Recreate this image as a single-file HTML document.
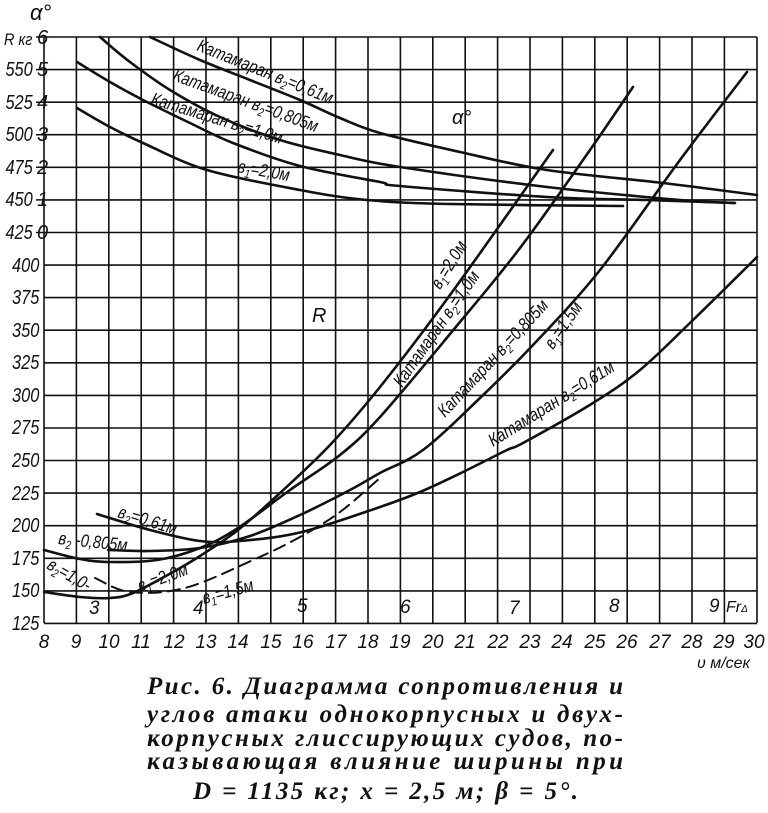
<!DOCTYPE html>
<html><head><meta charset="utf-8">
<style>
html,body{margin:0;padding:0;background:#fff;}
svg{display:block;}
.t{font-family:"Liberation Sans",sans-serif;font-style:italic;fill:#111;}
.c{font-family:"Liberation Serif","DejaVu Serif",serif;font-style:italic;fill:#111;}
</style></head>
<body>
<svg width="768" height="813" viewBox="0 0 768 813" xmlns="http://www.w3.org/2000/svg">
<rect width="768" height="813" fill="#fff"/>
<g stroke="#111" stroke-width="1.6" fill="none">
<path d="M44 37H757 M44 69.6H757 M44 102.2H757 M44 134.7H757 M44 167.3H757 M44 199.9H757 M44 232.5H757 M44 265.1H757 M44 297.6H757 M44 330.2H757 M44 362.8H757 M44 395.4H757 M44 428H757 M44 460.5H757 M44 493.1H757 M44 525.7H757 M44 558.3H757 M44 590.9H757 M44 623.4H757"/>
<path d="M44 37V623 M76.4 37V623 M108.8 37V623 M141.2 37V623 M173.6 37V623 M206 37V623 M238.4 37V623 M270.8 37V623 M303.2 37V623 M335.6 37V623 M368 37V623 M400.4 37V623 M432.8 37V623 M465.2 37V623 M497.6 37V623 M530 37V623 M562.4 37V623 M594.8 37V623 M627.2 37V623 M659.6 37V623 M692 37V623 M724.4 37V623 M757 37V623"/>
</g>
<g id="curves" stroke="#111" stroke-width="2.6" fill="none" stroke-linejoin="round" stroke-linecap="round">
<polyline points="150,37 200,60 250,80 300,100 340,118 380,133 460,152 547,170 663,183 757,195"/>
<polyline points="100,37 130,62 170,90 220,117 280,140 340,155 400,167 547,187 680,200 735,203"/>
<polyline points="77,62 110,82 143,100 190,123 233,143 300,166 380,182 400,186 547,197 647,200 735,203"/>
<polyline points="77,108 110,127 143,143 207,170 300,190 367,200 450,204 623,206"/>
<polyline points="44,592 80,597 110,598 133,593 173,572 200,556 238,530 280,493 330,445 380,387 450,295 553,150"/>
<polyline points="44,550 80,559 110,562 157,560 200,548 238,528 290,490 340,455 380,417 450,334 520,248 590,150 633,87"/>
<polyline points="108,550 150,551 200,548 250,536 300,515 350,490 380,473 423,450 480,398 533,345 600,270 680,160 747,72"/>
<polyline points="97,514 150,530 200,541 240,541 302,532 380,507 420,492 463,472 507,450 523,443 593,403 640,370 693,320 757,257"/>
<polyline stroke-width="2" stroke-dasharray="12,7" points="95,578 130,592 185,588 253,560 300,537 340,512 380,478"/>
</g>
<g class="t" font-size="20" text-anchor="end">
<g transform="scale(0.82,1)">
<text x="40" y="76">550</text><text x="40" y="109">525</text><text x="40" y="141">500</text>
<text x="40" y="174">475</text><text x="40" y="206">450</text><text x="40" y="239">425</text>
<text x="48" y="272">400</text><text x="48" y="304">375</text><text x="48" y="337">350</text>
<text x="48" y="369">325</text><text x="48" y="402">300</text><text x="48" y="434">275</text>
<text x="48" y="467">250</text><text x="48" y="500">225</text><text x="48" y="532">200</text>
<text x="48" y="565">175</text><text x="48" y="597">150</text><text x="48" y="630">125</text>
</g>
</g>
<g stroke="#111" stroke-width="1.5"><path d="M36 69.6H44 M36 102.2H44 M36 134.7H44 M36 167.3H44 M36 199.9H44 M36 232.5H44 M36 37H44"/></g>
<g class="t" font-size="20">
<text transform="translate(4,45) scale(0.85,1)" font-size="17">R кг</text>
<text x="37" y="44">6</text><text x="37" y="76">5</text><text x="37" y="109">4</text>
<text x="37" y="141">3</text><text x="37" y="174">2</text><text x="37" y="206">1</text><text x="37" y="239">0</text>
<text x="30" y="20" font-size="22">α°</text>
<text x="452" y="124" font-size="20">α°</text>
<text x="312" y="322" font-size="20">R</text>
</g>
<g class="t" font-size="19" text-anchor="middle">
<text x="44" y="648">8</text><text x="76" y="648">9</text><text x="109" y="648">10</text><text x="141" y="648">11</text>
<text x="174" y="648">12</text><text x="206" y="648">13</text><text x="238" y="648">14</text><text x="271" y="648">15</text>
<text x="303" y="648">16</text><text x="336" y="648">17</text><text x="368" y="648">18</text><text x="400" y="648">19</text>
<text x="433" y="648">20</text><text x="465" y="648">21</text><text x="498" y="648">22</text><text x="530" y="648">23</text>
<text x="562" y="648">24</text><text x="595" y="648">25</text><text x="627" y="648">26</text><text x="660" y="648">27</text>
<text x="692" y="648">28</text><text x="724" y="648">29</text><text x="754" y="648">30</text>
</g>
<text class="t" x="697" y="668" font-size="16">υ м/сек</text>
<g class="t" font-size="19">
<text x="89" y="614">3</text><text x="193" y="614">4</text><text x="297" y="612">5</text>
<text x="400" y="613">6</text><text x="509" y="614">7</text><text x="609" y="612">8</text><text x="709" y="612">9</text>
<text x="726" y="612" font-size="16">Fr<tspan font-size="10">Δ</tspan></text>
</g>
<g class="t" font-size="18">
<text transform="translate(196,50) rotate(22) scale(0.82,1)">Катамаран в<tspan font-size="12" dy="4">2</tspan><tspan dy="-4">=0,61м</tspan></text>
<text transform="translate(172,80) rotate(20) scale(0.82,1)">Катамаран в<tspan font-size="12" dy="4">2</tspan><tspan dy="-4">=0,805м</tspan></text>
<text transform="translate(150,104) rotate(17) scale(0.82,1)">Катамаран в<tspan font-size="12" dy="4">2</tspan><tspan dy="-4">=1,0м</tspan></text>
<text transform="translate(237,172) rotate(10) scale(0.82,1)">в<tspan font-size="12" dy="4">1</tspan><tspan dy="-4">=2,0м</tspan></text>
<text transform="translate(440,290) rotate(-58) scale(0.82,1)">в<tspan font-size="12" dy="4">1</tspan><tspan dy="-4">=2,0м</tspan></text>
<text transform="translate(402,388) rotate(-55) scale(0.82,1)">Катамаран в<tspan font-size="12" dy="4">2</tspan><tspan dy="-4">=1,0м</tspan></text>
<text transform="translate(445,418) rotate(-47) scale(0.82,1)">Катамаран в<tspan font-size="12" dy="4">2</tspan><tspan dy="-4">=0,805м</tspan></text>
<text transform="translate(553,350) rotate(-55) scale(0.82,1)">в<tspan font-size="12" dy="4">1</tspan><tspan dy="-4">=1,5м</tspan></text>
<text transform="translate(493,447) rotate(-32) scale(0.82,1)">Катамаран в<tspan font-size="12" dy="4">2</tspan><tspan dy="-4">=0,61м</tspan></text>
<text transform="translate(117,517) rotate(17) scale(0.82,1)">в<tspan font-size="12" dy="4">2</tspan><tspan dy="-4">=0,61м</tspan></text>
<text transform="translate(58,544) rotate(6) scale(0.82,1)">в<tspan font-size="12" dy="4">2</tspan><tspan dy="-4"> -0,805м</tspan></text>
<text transform="translate(46,568) rotate(30) scale(0.82,1)">в<tspan font-size="12" dy="4">2</tspan><tspan dy="-4">=1,0-</tspan></text>
<text transform="translate(140,592) rotate(-20) scale(0.82,1)">в<tspan font-size="12" dy="4">1</tspan><tspan dy="-4">=2,0м</tspan></text>
<text transform="translate(204,604) rotate(-15) scale(0.82,1)">в<tspan font-size="12" dy="4">1</tspan><tspan dy="-4">=1,5м</tspan></text>
</g>
<g class="c" font-size="25" font-weight="bold">
<text x="147" y="694" textLength="476" lengthAdjust="spacing">Рис. 6. Диаграмма сопротивления и</text>
<text x="147" y="722" textLength="476" lengthAdjust="spacing">углов атаки однокорпусных и двух-</text>
<text x="147" y="746" textLength="476" lengthAdjust="spacing">корпусных глиссирующих судов, по-</text>
<text x="147" y="769" textLength="476" lengthAdjust="spacing">казывающая влияние ширины при</text>
<text x="193" y="799" textLength="385" lengthAdjust="spacing">D = 1135 кг; x = 2,5 м; β = 5°.</text>
</g>
</svg>
<script>
(function(){
var ns="http://www.w3.org/2000/svg";
var pls=document.querySelectorAll("#curves polyline");
for(var i=0;i<pls.length;i++){
var pl=pls[i];var pts=pl.getAttribute("points").trim().split(/\s+/).map(function(s){var a=s.split(",");return [+a[0],+a[1]];});
var d="M"+pts[0][0]+" "+pts[0][1];
for(var k=0;k<pts.length-1;k++){
var p0=pts[k-1]||pts[k],p1=pts[k],p2=pts[k+1],p3=pts[k+2]||pts[k+1];
var c1x=p1[0]+(p2[0]-p0[0])/6,c1y=p1[1]+(p2[1]-p0[1])/6,c2x=p2[0]-(p3[0]-p1[0])/6,c2y=p2[1]-(p3[1]-p1[1])/6;
d+=" C"+c1x.toFixed(1)+" "+c1y.toFixed(1)+" "+c2x.toFixed(1)+" "+c2y.toFixed(1)+" "+p2[0]+" "+p2[1];}
var p=document.createElementNS(ns,"path");p.setAttribute("d",d);
if(pl.getAttribute("stroke-width"))p.setAttribute("stroke-width",pl.getAttribute("stroke-width"));
if(pl.getAttribute("stroke-dasharray"))p.setAttribute("stroke-dasharray",pl.getAttribute("stroke-dasharray"));
pl.parentNode.replaceChild(p,pl);}
})();
</script>
</body></html>
